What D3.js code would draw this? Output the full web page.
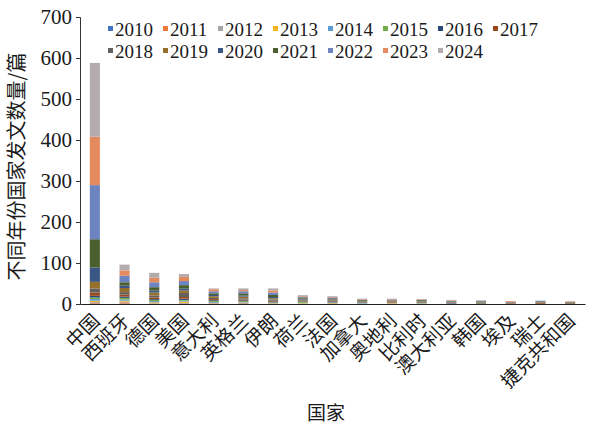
<!DOCTYPE html>
<html>
<head>
<meta charset="utf-8">
<script src="https://cdn.jsdelivr.net/npm/d3@7"></script>
<style>
  body { margin: 0; background: #fff; }
  svg text { fill: #1a1a1a; }
</style>
</head>
<body>
<svg id="chart" width="589" height="430"></svg>
<script>
// Countries along the x axis
const countries = ["中国", "西班牙", "德国", "美国", "意大利", "英格兰", "伊朗", "荷兰", "法国",
  "加拿大", "奥地利", "比利时", "澳大利亚", "韩国", "埃及", "瑞士", "捷克共和国"];

// Publication years (stack order, bottom to top)
const years = ["2010", "2011", "2012", "2013", "2014", "2015", "2016", "2017",
  "2018", "2019", "2020", "2021", "2022", "2023", "2024"];

const yearColors = ["#4472C4", "#E97A3A", "#A5A5A5", "#F5B41E", "#5B9BD5", "#70AD47", "#2A4578", "#9A4A1A",
  "#656060", "#94702A", "#3A5684", "#4A5E2E", "#6D84C0", "#E48A5E", "#B4ACAC"];

const yTicks = [0, 100, 200, 300, 400, 500, 600, 700];

// Papers per country, one array per year (same order as countries)
const v2010 = [1, 1, 0, 1, 0, 1, 0, 0, 0, 0, 0, 0, 0, 0, 0, 0, 0];
const v2011 = [2, 3, 1, 1, 1, 1, 0, 0, 1, 0, 1, 0, 0, 0, 0, 0, 0];
const v2012 = [2, 2, 1, 1, 1, 1, 1, 1, 0, 1, 0, 0, 0, 0, 0, 0, 0];
const v2013 = [3, 2, 2, 3, 1, 1, 1, 1, 1, 0, 1, 1, 0, 0, 0, 0, 0];
const v2014 = [4, 3, 3, 2, 2, 1, 1, 1, 1, 1, 1, 1, 1, 0, 0, 0, 0];
const v2015 = [4, 4, 3, 2, 2, 2, 1, 2, 1, 1, 0, 1, 0, 1, 0, 0, 0];
const v2016 = [4, 3, 2, 3, 2, 2, 2, 1, 2, 1, 1, 1, 1, 1, 0, 1, 1];
const v2017 = [8, 5, 4, 4, 3, 2, 2, 1, 1, 1, 1, 1, 1, 1, 1, 2, 1];
const v2018 = [10, 6, 5, 10, 3, 3, 3, 2, 2, 1, 1, 1, 1, 1, 1, 1, 1];
const v2019 = [16, 10, 7, 6, 4, 4, 3, 2, 2, 1, 2, 1, 1, 1, 1, 1, 1];
const v2020 = [35, 6, 5, 5, 3, 3, 3, 2, 1, 1, 1, 1, 1, 1, 0, 1, 0];
const v2021 = [69, 8, 8, 8, 4, 5, 5, 3, 2, 2, 1, 2, 1, 1, 1, 1, 1];
const v2022 = [132, 16, 12, 10, 5, 5, 6, 2, 2, 1, 1, 1, 1, 1, 1, 1, 0];
const v2023 = [118, 13, 11, 10, 5, 3, 5, 2, 1, 1, 1, 1, 1, 0, 2, 0, 1];
const v2024 = [180, 14, 12, 7, 2, 4, 5, 2, 2, 1, 1, 0, 1, 1, 0, 0, 1];

const yearSeries = [v2010, v2011, v2012, v2013, v2014, v2015, v2016, v2017,
  v2018, v2019, v2020, v2021, v2022, v2023, v2024];

// Build rows for d3.stack
const rows = countries.map((c, i) => {
  const r = { country: c };
  years.forEach((y, k) => { r[y] = yearSeries[k][i]; });
  return r;
});

const svg = d3.select("#chart");
const margin = { left: 80, right: 4, top: 17, bottom: 126 };
const W = 589, H = 430;
const serif = "'Liberation Serif', 'Times New Roman', serif";
const cjk = "'Noto Sans CJK SC', sans-serif";

const x = d3.scaleBand()
  .domain(countries)
  .range([margin.left, W - margin.right])
  .paddingInner(0.66)
  .paddingOuter(0.33);

const y = d3.scaleLinear()
  .domain([0, 700])
  .range([H - margin.bottom, margin.top]);

const color = d3.scaleOrdinal().domain(years).range(yearColors);

const stacked = d3.stack().keys(years)(rows);

// Stacked bars
svg.append("g")
  .selectAll("g")
  .data(stacked)
  .join("g")
  .attr("fill", d => color(d.key))
  .selectAll("rect")
  .data(d => d)
  .join("rect")
  .attr("x", d => x(d.data.country))
  .attr("width", x.bandwidth())
  .attr("y", d => y(d[1]))
  .attr("height", d => y(d[0]) - y(d[1]));

// Y axis
const yAxis = svg.append("g")
  .attr("transform", `translate(${margin.left},0)`)
  .call(d3.axisLeft(y).tickValues(yTicks).tickSize(4).tickPadding(4));
yAxis.select(".domain").attr("stroke", "#333");
yAxis.selectAll(".tick line").attr("stroke", "#333");
yAxis.selectAll("text")
  .attr("font-family", serif)
  .attr("font-size", 21)
  .attr("fill", "#1a1a1a");

// X axis
const xAxis = svg.append("g")
  .attr("transform", `translate(0,${H - margin.bottom})`)
  .call(d3.axisBottom(x).tickSize(0).tickPadding(0).tickSizeOuter(0));
xAxis.select(".domain").attr("stroke", "#222").attr("stroke-width", 1.2);
xAxis.selectAll("text")
  .attr("font-family", cjk)
  .attr("font-size", 19)
  .attr("fill", "#1a1a1a")
  .attr("text-anchor", "end")
  .attr("dy", "0")
  .attr("transform", "translate(6,18) rotate(-45)");

// Axis titles
svg.append("text")
  .attr("transform", `translate(24,${(margin.top + H - margin.bottom) / 2 + 6}) rotate(-90)`)
  .attr("text-anchor", "middle")
  .attr("font-family", cjk)
  .attr("font-size", 20)
  .text("不同年份国家发文数量/篇");

svg.append("text")
  .attr("x", 326)
  .attr("y", 420)
  .attr("text-anchor", "middle")
  .attr("font-family", cjk)
  .attr("font-size", 19)
  .text("国家");

// Legend: two rows, eight items in the first row
const legend = svg.append("g");
const legendItems = legend.selectAll("g")
  .data(years)
  .join("g")
  .attr("transform", (d, i) => {
    const row = i < 8 ? 0 : 1;
    const col = i < 8 ? i : i - 8;
    return `translate(${108 + col * 55},${29 + row * 22})`;
  });
legendItems.append("rect")
  .attr("x", 0).attr("y", -3)
  .attr("width", 5).attr("height", 5)
  .attr("fill", d => color(d));
legendItems.append("text")
  .attr("x", 7)
  .attr("y", 0)
  .attr("dy", "0.35em")
  .attr("font-family", serif)
  .attr("font-size", 19)
  .text(d => d);
</script>
</body>
</html>
